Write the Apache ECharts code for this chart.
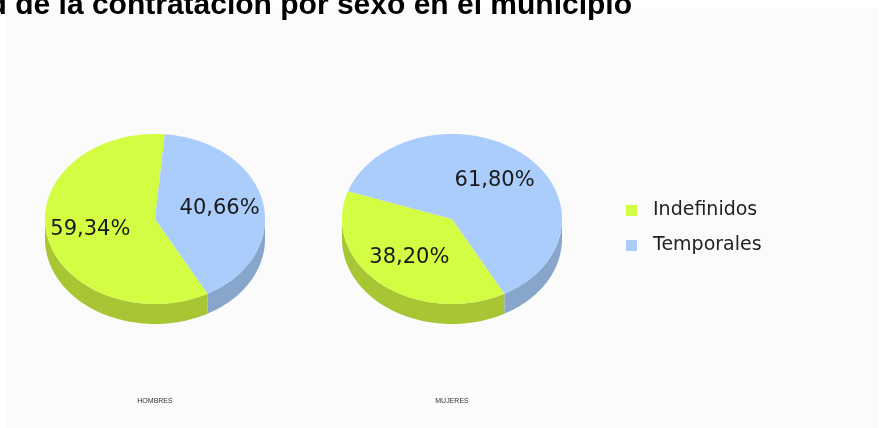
<!DOCTYPE html>
<html>
<head>
<meta charset="utf-8">
<script src="https://cdn.jsdelivr.net/npm/echarts@6/dist/echarts.min.js"></script>
<style>
  html, body { margin: 0; padding: 0; background: #fff; }
  #chart { width: 879px; height: 428px; }
</style>
</head>
<body>
<div id="chart"></div>
<script>
// datos
var sexos = ['HOMBRES', 'MUJERES'];
var categorias = ['Indefinidos', 'Temporales'];
var indefinidos = [59.34, 38.20];
var temporales = [40.66, 61.80];

var valores = [indefinidos, temporales];

// disposicion de las tartas 3D
var centros = [[155, 219], [452, 219]];
var radioX = 110, radioY = 85, grosor = 20;
var anguloInicio = 151.5; // grados, sentido horario desde arriba
var colores = ['#d3fd43', '#abcdfc'];
var coloresLado = ['#a8c634', '#88a6cb'];

function punto(c, ang, f) {
    var r = ang * Math.PI / 180;
    return [c[0] + radioX * f * Math.sin(r), c[1] - radioY * f * Math.cos(r)];
}

function arco(c, a0, a1, dy) {
    var pts = [];
    for (var a = a0; a < a1; a += 1) {
        var p = punto(c, a, 1);
        pts.push([p[0], p[1] + dy]);
    }
    var q = punto(c, a1, 1);
    pts.push([q[0], q[1] + dy]);
    return pts;
}

function renderItem(params, api) {
    var s = params.seriesIndex;
    var p = api.value(0);
    var v = api.value(1);
    var total = 0, antes = 0;
    valores.forEach(function (arr, k) {
        total += arr[p];
        if (k < s) antes += arr[p];
    });
    var a0 = anguloInicio + antes / total * 360;
    var a1 = a0 + v / total * 360;
    var c = centros[p];
    var hijos = [];

    // lateral visible (mitad frontal de la elipse)
    [0, 1].forEach(function (k) {
        var b0 = Math.max(a0, 90 + 360 * k);
        var b1 = Math.min(a1, 270 + 360 * k);
        if (b1 > b0) {
            var arriba = arco(c, b0, b1, 0);
            var abajo = arco(c, b0, b1, grosor).reverse();
            hijos.push({
                type: 'polygon',
                shape: { points: arriba.concat(abajo) },
                style: { fill: coloresLado[s] }
            });
        }
    });

    // cara superior
    hijos.push({
        type: 'polygon',
        shape: { points: [c].concat(arco(c, a0, a1, 0)) },
        style: { fill: colores[s] }
    });

    // etiqueta
    var m = punto(c, (a0 + a1) / 2, 0.6);
    hijos.push({
        type: 'text',
        x: m[0],
        y: m[1],
        z2: 100,
        style: {
            text: v.toFixed(2).replace('.', ',') + '%',
            fontFamily: 'DejaVu Sans',
            fontSize: 21,
            fill: '#1a1a1a',
            align: 'center',
            verticalAlign: 'middle'
        }
    });

    return { type: 'group', children: hijos };
}

var chart = echarts.init(document.getElementById('chart'));

var option = {
    backgroundColor: '#fff',
    color: colores,
    animation: false,
    graphic: [{
        type: 'rect',
        z: -10,
        shape: { x: 6, y: 8, width: 872, height: 420 },
        style: { fill: '#fbfbfb' }
    }],
    title: [{
        text: 'Temporalidad de la contratación por sexo en el municipio',
        right: 247,
        top: -9,
        padding: 0,
        textStyle: { fontFamily: 'Liberation Sans', fontWeight: 'bold', fontSize: 30, color: '#000' }
    }].concat(sexos.map(function (nombre, i) {
        return {
            text: nombre,
            left: centros[i][0],
            top: 398,
            padding: 0,
            textAlign: 'center',
            textStyle: { fontFamily: 'Liberation Sans', fontWeight: 'normal', fontSize: 7, color: '#333' }
        };
    })),
    legend: {
        data: categorias,
        orient: 'vertical',
        left: 626,
        top: 201,
        padding: 0,
        icon: 'rect',
        itemWidth: 11,
        itemHeight: 11,
        itemGap: 16,
        textStyle: {
            fontFamily: 'DejaVu Sans',
            fontSize: 19,
            color: '#222',
            padding: [0, 0, 0, 11]
        }
    },
    series: categorias.map(function (nombre, s) {
        return {
            type: 'custom',
            name: nombre,
            coordinateSystem: 'none',
            renderItem: renderItem,
            itemStyle: { color: colores[s] },
            data: valores[s].map(function (v, i) { return [i, v]; })
        };
    })
};

chart.setOption(option);
</script>
</body>
</html>
